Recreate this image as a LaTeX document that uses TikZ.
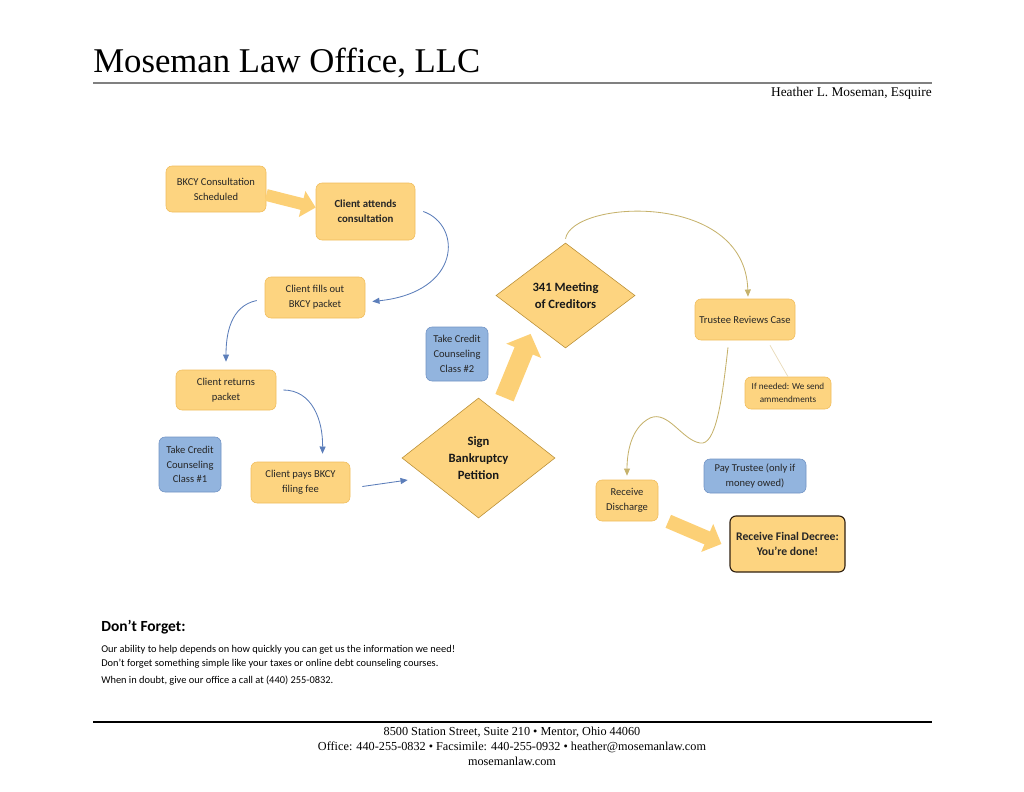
\documentclass[tikz,border=0pt]{standalone}
\usepackage{fontspec}
\setmainfont{Liberation Serif}
\newfontfamily\calibri{Carlito}
\usepackage{xcolor}
\usetikzlibrary{shapes.geometric, arrows.meta, positioning}

\definecolor{boxfill}{RGB}{253,212,128}
\definecolor{boxline}{RGB}{240,188,92}
\definecolor{arrowfill}{RGB}{252,208,118}
\definecolor{bluefill}{RGB}{146,180,222}
\definecolor{blueline}{RGB}{112,146,196}
\definecolor{diamline}{RGB}{185,142,52}
\definecolor{flowblue}{RGB}{92,126,186}
\definecolor{flowgold}{RGB}{198,178,108}
\definecolor{faintline}{RGB}{232,218,184}

\tikzset{
  box/.style={draw=boxline, fill=boxfill, rounded corners=1.5mm, align=center, inner sep=1pt,
    text=black!85, font={\calibri\fontsize{7.5}{10.5}\selectfont}},
  bluebox/.style={box, draw=blueline, fill=bluefill},
  decision/.style={diamond, draw=diamline, fill=boxfill, inner sep=0pt, align=center,
    text=black!90, font={\calibri\bfseries\fontsize{9}{12}\selectfont}},
  flow/.style={draw=flowblue, line width=0.6pt, -{Triangle[length=1.8mm,width=1.5mm]}},
  goldflow/.style={flow, draw=flowgold},
  fatarrow/.style={draw=arrowfill, line cap=butt}
}

\begin{document}
\begin{tikzpicture}[x=0.25mm, y=-0.25mm]
\useasboundingbox (0,0) rectangle (1024,791);

% header
\node[anchor=base west, inner sep=0pt, font=\fontsize{24.7}{28}\selectfont] (title) at (93,72) {Moseman Law Office, LLC};
\draw[gray, line width=1.4pt] (93,83) -- (932,83);
\node[anchor=base east, inner sep=0pt, font=\fontsize{9.5}{11}\selectfont] (lawyer) at (932,96) {Heather L. Moseman, Esquire};

% steps
\node[box, minimum width=25mm, minimum height=11.5mm] (sched) at (216,189) {BKCY Consultation\\Scheduled};
\node[box, minimum width=24.75mm, minimum height=14.25mm, font={\calibri\bfseries\fontsize{7.7}{10.5}\selectfont}] (attend) at (365.5,211.5) {Client attends\\consultation};
\node[box, minimum width=25mm, minimum height=10.25mm] (fills) at (315,297.5) {Client fills out\\BKCY packet};
\node[box, minimum width=25mm, minimum height=10mm] (returns) at (226,390) {Client returns\\packet};
\node[bluebox, minimum width=15.5mm, minimum height=13.75mm] (class1) at (190,464.5) {Take Credit\\Counseling\\Class \#1};
\node[box, minimum width=24.75mm, minimum height=10.25mm] (pays) at (300.5,482.5) {Client pays BKCY\\filing fee};
\node[decision, minimum width=38.25mm, minimum height=30mm] (sign) at (478.5,458) {Sign\\Bankruptcy\\Petition};
\node[bluebox, minimum width=15.5mm, minimum height=13.5mm] (class2) at (457,354) {Take Credit\\Counseling\\Class \#2};
\node[decision, minimum width=34.75mm, minimum height=26.25mm] (meeting) at (565.5,295.5) {341 Meeting\\of Creditors};
\node[box, minimum width=25mm, minimum height=10.25mm] (trustee) at (745,319.5) {Trustee Reviews Case};
\node[box, minimum width=21.5mm, minimum height=8mm, font={\calibri\fontsize{6.5}{9.5}\selectfont}] (amend) at (788,393) {If needed: We send\\ammendments};
\node[bluebox, minimum width=25.5mm, minimum height=8.5mm] (paytr) at (755,476) {Pay Trustee (only if\\money owed)};
\node[box, minimum width=15.5mm, minimum height=10.25mm] (discharge) at (627,500.5) {Receive\\Discharge};
\node[box, draw=black!75!brown, line width=0.8pt, minimum width=28.75mm, minimum height=14mm,
  font={\calibri\bfseries\fontsize{8.3}{11}\selectfont}] (final) at (787.5,544) {Receive Final Decree:\\You’re done!};

% wide arrows
\draw[fatarrow, line width=8.5pt, -{Triangle[length=10pt,width=18.5pt]}]
  ([yshift=-1.5mm]sched.east) -- ([yshift=1mm]attend.west);
\draw[fatarrow, line width=14pt, -{Triangle[length=13pt,width=26pt]}]
  ([xshift=6.5mm]sign.north) -- ([yshift=-3mm]meeting.south west);
\draw[fatarrow, line width=10pt, -{Triangle[length=11pt,width=21pt]}]
  ([xshift=2.5mm]discharge.south east) -- ([xshift=-2mm]final.west);

% thin connectors
\draw[flow] ([xshift=2mm]attend.east) .. controls (462,225) and (462,292) .. ([xshift=1.75mm,yshift=-1mm]fills.east);
\draw[flow] ([xshift=-2mm,yshift=-0.75mm]fills.west) .. controls (230,306) and (226,335) .. ([yshift=2mm]returns.north);
\draw[flow] ([xshift=1.75mm]returns.east) .. controls (312,390) and (323,420) .. ([xshift=5.5mm,yshift=2mm]pays.north);
\draw[flow] ([xshift=3mm,yshift=-1mm]pays.east) -- ([xshift=1.5mm,yshift=-5.5mm]sign.west);
\draw[goldflow] ([yshift=1mm]meeting.north) .. controls (572,200) and (745,190) .. ([xshift=0.75mm,yshift=0.5mm]trustee.north);
\draw[goldflow] ([xshift=-4.25mm,yshift=-1.75mm]trustee.south)
  .. controls (722,400) and (716,446) .. (700,443)
  .. controls (682,440) and (668,410) .. (650,418)
  .. controls (630,428) and (627,455) .. ([yshift=1mm]discharge.north);
\draw[faintline, line width=0.5pt] ([xshift=6.25mm,yshift=-1.25mm]trustee.south) -- (amend.north);

% note
\node[anchor=base west, inner sep=0pt, font={\calibri\bfseries\fontsize{11}{13}\selectfont}] (forget) at (101,631) {Don’t Forget:};
\node[anchor=base west, inner sep=0pt, font={\calibri\fontsize{7.4}{8}\selectfont}] (note1) at (101,652) {Our ability to help depends on how quickly you can get us the information we need!};
\node[anchor=base west, inner sep=0pt, font={\calibri\fontsize{7.4}{8}\selectfont}] (note2) at (101,666) {Don’t forget something simple like your taxes or online debt counseling courses.};
\node[anchor=base west, inner sep=0pt, font={\calibri\fontsize{7.4}{8}\selectfont}] (note3) at (101,683) {When in doubt, give our office a call at (440) 255-0832.};

% footer
\draw[black, line width=0.8pt] (93,722) -- (932,722);
\node[anchor=base, inner sep=0pt, font=\fontsize{8.7}{10}\selectfont] (addr1) at (512,735) {8500 Station Street, Suite 210 • Mentor, Ohio 44060};
\node[anchor=base, inner sep=0pt, font=\fontsize{8.7}{10}\selectfont] (addr2) at (512,750) {Office: 440-255-0832 • Facsimile: 440-255-0932 • heather@mosemanlaw.com};
\node[anchor=base, inner sep=0pt, font=\fontsize{8.7}{10}\selectfont] (addr3) at (512,765) {mosemanlaw.com};
\end{tikzpicture}
\end{document}
